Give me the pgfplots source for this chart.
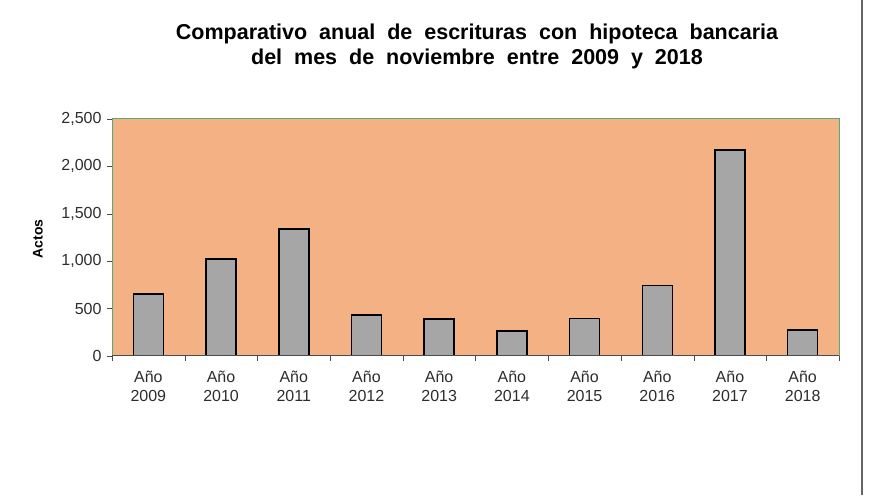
\documentclass[border=0pt]{standalone}
\usepackage{pgfplots}
\pgfplotsset{compat=1.18}
\usepackage{fontspec}
\setmainfont{Liberation Sans}
\definecolor{bgor}{RGB}{244,177,131}
\definecolor{bargray}{RGB}{166,166,166}
\definecolor{axgreen}{RGB}{84,170,120}
\definecolor{txt}{RGB}{45,45,45}
\begin{document}
\begin{tikzpicture}[x=1pt,y=1pt]
\useasboundingbox (0,0) rectangle (880,495);
\draw[color=gray!80!black, line width=1.5pt] (862,0) -- (862,495);
\node[align=center, font=\fontsize{21.5}{25}\selectfont\bfseries, anchor=center] at (477,449)
  {Comparativo\ \ anual\ \ de\ \ escrituras\ \ con\ \ hipoteca\ \ bancaria\\del\ \ mes\ \ de\ \ noviembre\ \ entre\ \ 2009\ \ y\ \ 2018};
\node[rotate=90, font=\fontsize{14}{16}\selectfont\bfseries] at (38,256) {Actos};
\begin{axis}[
  at={(112pt,139pt)}, anchor=south west,
  scale only axis, width=727pt, height=237pt,
  xmin=-0.5, xmax=9.5, ymin=0, ymax=2500,
  ytick={0,500,1000,1500,2000,2500},
  xtick={0,...,9},
  xticklabels={{Año\\2009},{Año\\2010},{Año\\2011},{Año\\2012},{Año\\2013},{Año\\2014},{Año\\2015},{Año\\2016},{Año\\2017},{Año\\2018}},
  minor xtick={-0.5,0.5,...,9.5},
  tick align=outside,
  xtick pos=bottom, ytick pos=left,
  major tick length=5pt, minor tick length=5pt,
  major x tick style={draw=none},
  minor x tick style={draw=black!70},
  major y tick style={draw=black!70},
  axis background/.style={fill=bgor},
  axis line style={draw=axgreen, line width=1pt},
  xticklabel style={align=center, font=\fontsize{16}{19}\selectfont, text=txt, yshift=-6pt},
  yticklabel style={font=\fontsize{16}{19}\selectfont, text=txt, xshift=-2pt},
  /pgf/number format/assume math mode=true,
  /pgf/number format/1000 sep={,},
]
\addplot[ybar, bar width=30pt, fill=bargray, draw=black, line width=1.5pt] coordinates {
(0,654) (1,1023) (2,1340) (3,430) (4,390) (5,264) (6,398) (7,743) (8,2173) (9,274)};
\draw[black!70, line width=1pt] (axis cs:-0.5,0) -- (axis cs:9.5,0);
\end{axis}
\end{tikzpicture}
\end{document}
